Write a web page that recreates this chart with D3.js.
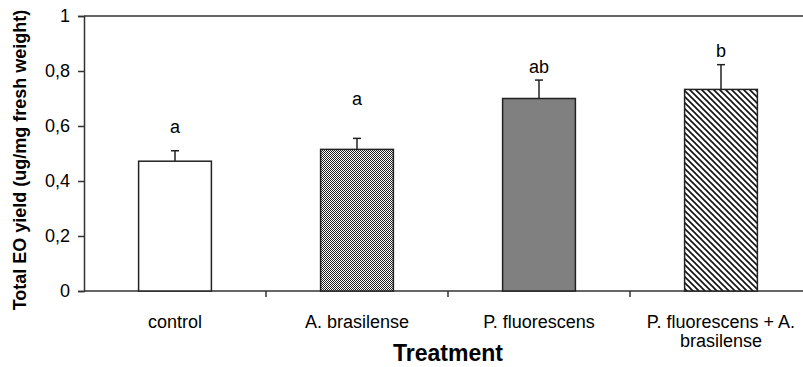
<!DOCTYPE html>
<html>
<head>
<meta charset="utf-8">
<script src="https://cdn.jsdelivr.net/npm/d3@7"></script>
<style>
  body { margin: 0; background: #fff; }
  svg { display: block; font-family: "Liberation Sans", Arial, sans-serif; }
</style>
</head>
<body>
<svg id="chart" width="803" height="367"></svg>
<script>
const categories = ['control', 'A. brasilense', 'P. fluorescens', 'P. fluorescens + A. brasilense'];
const categoryLines = [['control'], ['A. brasilense'], ['P. fluorescens'], ['P. fluorescens + A.', 'brasilense']];
const yieldValues = [0.472, 0.515, 0.70, 0.733];
const errorValues = [0.038, 0.04, 0.067, 0.09];
const letters = ['a', 'a', 'ab', 'b'];
const letterAt = [0.575, 0.676, 0.793, 0.851];
const yTicks = [0, 0.2, 0.4, 0.6, 0.8, 1];
const fills = ['#fff', 'url(#checker)', '#808080', 'url(#hatch)'];

const svg = d3.select('#chart');
const plotLeft = 84, plotRight = 812, plotTop = 16, plotBottom = 291;

// patterns
const defs = svg.append('defs');
const checker = defs.append('pattern')
  .attr('id', 'checker')
  .attr('patternUnits', 'userSpaceOnUse')
  .attr('width', 2).attr('height', 2);
checker.append('rect').attr('width', 2).attr('height', 2).attr('fill', '#fff');
checker.append('rect').attr('width', 1).attr('height', 1).attr('fill', '#222');
checker.append('rect').attr('x', 1).attr('y', 1).attr('width', 1).attr('height', 1).attr('fill', '#222');

const hatch = defs.append('pattern')
  .attr('id', 'hatch')
  .attr('patternUnits', 'userSpaceOnUse')
  .attr('width', 6).attr('height', 6);
hatch.append('rect').attr('width', 6).attr('height', 6).attr('fill', '#fff');
hatch.append('path')
  .attr('d', 'M0,0L6,6M-3,3L3,9M3,-3L9,3')
  .attr('stroke', '#111')
  .attr('stroke-width', 1.6);

const x = d3.scaleBand()
  .domain(categories)
  .range([plotLeft, plotRight])
  .padding(0);

const y = d3.scaleLinear()
  .domain([0, 1])
  .range([plotBottom, plotTop]);

const barW = x.bandwidth() * 0.4;

// frame top line
svg.append('line')
  .attr('x1', plotLeft).attr('x2', plotRight)
  .attr('y1', y(1)).attr('y2', y(1))
  .attr('stroke', '#333').attr('stroke-width', 1.5);

// y axis
const yAxis = svg.append('g')
  .attr('transform', `translate(${plotLeft},0)`)
  .call(d3.axisLeft(y)
    .tickValues(yTicks)
    .tickSize(6)
    .tickPadding(8)
    .tickFormat(d => (d === 0 || d === 1) ? String(d) : d.toFixed(1).replace('.', ',')));
yAxis.select('.domain').attr('stroke', '#333').attr('stroke-width', 1.5);
yAxis.selectAll('.tick line').attr('stroke', '#333').attr('stroke-width', 1.5);
yAxis.selectAll('.tick text')
  .attr('font-family', '"Liberation Sans", Arial, sans-serif')
  .attr('font-size', 18).attr('fill', '#000');

// x axis (ticks between categories)
const xAxisG = svg.append('g')
  .attr('transform', `translate(0,${plotBottom})`);
xAxisG.append('line')
  .attr('x1', plotLeft).attr('x2', plotRight)
  .attr('stroke', '#333').attr('stroke-width', 1.5);
xAxisG.selectAll('line.sep')
  .data(categories.slice(1))
  .join('line')
  .attr('class', 'sep')
  .attr('x1', d => x(d)).attr('x2', d => x(d))
  .attr('y1', 0).attr('y2', 6)
  .attr('stroke', '#333').attr('stroke-width', 1.5);

// category labels
const catText = svg.selectAll('text.cat')
  .data(categories)
  .join('text')
  .attr('class', 'cat')
  .attr('text-anchor', 'middle')
  .attr('font-size', 18)
  .attr('x', d => x(d) + x.bandwidth() / 2)
  .attr('y', 328);
catText.selectAll('tspan')
  .data((d, i) => categoryLines[i])
  .join('tspan')
  .attr('x', function () { return this.parentNode.getAttribute('x'); })
  .attr('dy', (d, i) => i === 0 ? 0 : 19)
  .text(d => d);

// bars
svg.selectAll('rect.bar')
  .data(categories)
  .join('rect')
  .attr('class', 'bar')
  .attr('x', d => x(d) + (x.bandwidth() - barW) / 2)
  .attr('width', barW)
  .attr('y', (d, i) => y(yieldValues[i]))
  .attr('height', (d, i) => y(0) - y(yieldValues[i]))
  .attr('fill', (d, i) => fills[i])
  .attr('stroke', '#222')
  .attr('stroke-width', 1.5);

// error bars
const err = svg.selectAll('g.err')
  .data(categories)
  .join('g')
  .attr('class', 'err')
  .attr('transform', d => `translate(${x(d) + x.bandwidth() / 2},0)`);
err.append('line')
  .attr('y1', (d, i) => y(yieldValues[i]))
  .attr('y2', (d, i) => y(yieldValues[i] + errorValues[i]))
  .attr('stroke', '#222').attr('stroke-width', 1.5);
err.append('line')
  .attr('x1', -4).attr('x2', 4)
  .attr('y1', (d, i) => y(yieldValues[i] + errorValues[i]))
  .attr('y2', (d, i) => y(yieldValues[i] + errorValues[i]))
  .attr('stroke', '#222').attr('stroke-width', 1.5);

// significance letters
svg.selectAll('text.sig')
  .data(categories)
  .join('text')
  .attr('class', 'sig')
  .attr('text-anchor', 'middle')
  .attr('font-size', 18)
  .attr('x', d => x(d) + x.bandwidth() / 2)
  .attr('y', (d, i) => y(letterAt[i]))
  .text((d, i) => letters[i]);

// axis titles
svg.append('text')
  .attr('text-anchor', 'middle')
  .attr('font-weight', 'bold')
  .attr('font-size', 23)
  .attr('x', x('P. fluorescens'))
  .attr('y', 361)
  .text('Treatment');

svg.append('text')
  .attr('text-anchor', 'middle')
  .attr('font-weight', 'bold')
  .attr('font-size', 18)
  .attr('transform', 'translate(26,160) rotate(-90)')
  .text('Total EO yield (ug/mg fresh weight)');
</script>
</body>
</html>
